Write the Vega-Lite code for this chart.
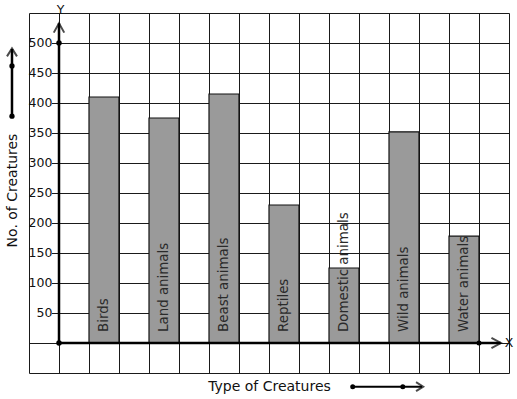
{
  "$schema": "https://vega.github.io/schema/vega-lite/v6.json",
  "width": 480,
  "height": 360,
  "autosize": {"type": "none"},
  "padding": {"left": 29, "top": 13, "right": 8, "bottom": 26},
  "background": "white",
  "config": {"view": {"stroke": null}, "font": "DejaVu Sans", "text": {"font": "DejaVu Sans"}},
  "datasets": {
    "creatures": [
      {"type": "Birds", "count": 410},
      {"type": "Land animals", "count": 375},
      {"type": "Beast animals", "count": 415},
      {"type": "Reptiles", "count": 230},
      {"type": "Domestic animals", "count": 125},
      {"type": "Wild animals", "count": 352},
      {"type": "Water animals", "count": 178}
    ],
    "ticks": [
      {"value": 50}, {"value": 100}, {"value": 150}, {"value": 200}, {"value": 250},
      {"value": 300}, {"value": 350}, {"value": 400}, {"value": 450}, {"value": 500}
    ]
  },
  "layer": [
    {
      "data": {"name": "ticks"},
      "mark": {"type": "point", "opacity": 0},
      "encoding": {
        "x": {"datum": 0, "type": "quantitative", "scale": {"domain": [0, 16], "nice": false, "zero": false},
          "axis": {"orient": "bottom", "values": [0,1,2,3,4,5,6,7,8,9,10,11,12,13,14,15,16], "grid": true, "gridColor": "#1a1a1a", "gridWidth": 1, "gridOpacity": 1, "domain": false, "ticks": false, "labels": false,
            "title": "Type of Creatures", "titleFont": "DejaVu Sans", "titleFontSize": 14, "titleFontWeight": "normal", "titleColor": "#111", "titleX": 240, "titleY": 13, "titleAlign": "center", "titleBaseline": "middle"}},
        "y": {"field": "value", "type": "quantitative", "scale": {"domain": [-50, 550], "nice": false, "zero": false},
          "axis": {"orient": "left", "values": [-50,0,50,100,150,200,250,300,350,400,450,500,550], "grid": true, "gridColor": "#1a1a1a", "gridWidth": 1, "gridOpacity": 1, "domain": false, "ticks": false, "labels": false,
            "title": "No. of Creatures", "titleFont": "DejaVu Sans", "titleFontSize": 14, "titleFontWeight": "normal", "titleColor": "#111", "titleX": -17, "titleY": 177, "titleAngle": 270, "titleAlign": "center", "titleBaseline": "middle"}}
      }
    },
    {
      "data": {"name": "ticks"},
      "mark": {"type": "tick", "orient": "horizontal", "color": "white", "opacity": 1, "thickness": 14, "size": 22},
      "encoding": {
        "x": {"datum": 0.4, "type": "quantitative", "scale": {"domain": [0, 16], "nice": false, "zero": false}, "axis": null},
        "y": {"field": "value", "type": "quantitative", "scale": {"domain": [-50, 550], "nice": false, "zero": false}, "axis": null}
      }
    },
    {
      "data": {"name": "ticks"},
      "mark": {"type": "text", "align": "right", "baseline": "middle", "fontSize": 12.5, "color": "#111", "font": "DejaVu Sans"},
      "encoding": {
        "x": {"datum": 0.78, "type": "quantitative", "scale": {"domain": [0, 16], "nice": false, "zero": false}, "axis": null},
        "y": {"field": "value", "type": "quantitative", "scale": {"domain": [-50, 550], "nice": false, "zero": false}, "axis": null},
        "text": {"field": "value", "type": "quantitative"}
      }
    },
    {
      "data": {"name": "creatures"},
      "mark": {"type": "bar", "fill": "#9a9a9a", "stroke": "#111", "strokeWidth": 1.2},
      "encoding": {
        "x": {"field": "type", "type": "nominal", "sort": null, "scale": {"type": "band", "paddingInner": 0.5, "paddingOuter": 0.75, "align": 0.6667}, "axis": null},
        "y": {"field": "count", "type": "quantitative", "scale": {"domain": [-50, 550], "nice": false, "zero": false}, "axis": null}
      }
    },
    {
      "data": {"name": "creatures"},
      "mark": {"type": "text", "angle": 270, "align": "left", "baseline": "middle", "dx": 11, "fontSize": 13.4, "color": "#2a2a2a", "font": "DejaVu Sans"},
      "encoding": {
        "x": {"field": "type", "type": "nominal", "sort": null, "bandPosition": 0.5, "scale": {"type": "band", "paddingInner": 0.5, "paddingOuter": 0.75, "align": 0.6667}, "axis": null},
        "y": {"datum": 0, "type": "quantitative", "scale": {"domain": [-50, 550], "nice": false, "zero": false}, "axis": null},
        "text": {"field": "type", "type": "nominal"}
      }
    },
    {
      "data": {"values": [{}]},
      "layer": [
        {"mark": {"type": "rule", "color": "#000", "strokeWidth": 2.5},
         "encoding": {"x": {"datum": 1}, "y": {"datum": 0}, "y2": {"datum": 533}}},
        {"mark": {"type": "rule", "color": "#000", "strokeWidth": 2.5},
         "encoding": {"x": {"datum": 1}, "x2": {"datum": 15.72}, "y": {"datum": 0}}},
        {"mark": {"type": "point", "shape": "M -1 1.8 L 0 0 L 1 1.8", "filled": false, "stroke": "#000", "strokeWidth": 2, "size": 110},
         "encoding": {"x": {"datum": 1}, "y": {"datum": 533}}},
        {"mark": {"type": "point", "shape": "M -1.8 -1 L 0 0 L -1.8 1", "filled": false, "stroke": "#000", "strokeWidth": 2, "size": 110},
         "encoding": {"x": {"datum": 15.73}, "y": {"datum": 0}}},
        {"mark": {"type": "point", "shape": "circle", "filled": true, "color": "#000", "opacity": 1, "size": 30},
         "encoding": {"x": {"datum": 1}, "y": {"datum": 0}}},
        {"mark": {"type": "point", "shape": "circle", "filled": true, "color": "#000", "opacity": 1, "size": 30},
         "encoding": {"x": {"datum": 1}, "y": {"datum": 500}}},
        {"mark": {"type": "point", "shape": "circle", "filled": true, "color": "#000", "opacity": 1, "size": 25},
         "encoding": {"x": {"datum": 15}, "y": {"datum": 0}}},
        {"mark": {"type": "text", "text": "X", "fontSize": 12.5, "align": "center", "baseline": "middle", "color": "#111"},
         "encoding": {"x": {"datum": 16.0}, "y": {"datum": 0}}},
        {"mark": {"type": "text", "text": "Y", "fontSize": 12.5, "align": "center", "baseline": "middle", "color": "#111"},
         "encoding": {"x": {"datum": 1.05}, "y": {"datum": 555}}},
        {"mark": {"type": "rule", "color": "#000", "strokeWidth": 2.5},
         "encoding": {"x": {"datum": -0.567}, "y": {"datum": 378}, "y2": {"datum": 490}}},
        {"mark": {"type": "point", "shape": "M -1 1.6 L 0 0 L 1 1.6", "filled": false, "stroke": "#000", "strokeWidth": 2, "size": 100},
         "encoding": {"x": {"datum": -0.567}, "y": {"datum": 491}}},
        {"mark": {"type": "point", "shape": "circle", "filled": true, "color": "#000", "opacity": 1, "size": 28},
         "encoding": {"x": {"datum": -0.567}, "y": {"datum": 378}}},
        {"mark": {"type": "point", "shape": "circle", "filled": true, "color": "#000", "opacity": 1, "size": 28},
         "encoding": {"x": {"datum": -0.567}, "y": {"datum": 461.7}}},
        {"mark": {"type": "rule", "color": "#000", "strokeWidth": 2},
         "encoding": {"x": {"datum": 10.79}, "x2": {"datum": 13.1}, "y": {"datum": -72.8}}},
        {"mark": {"type": "point", "shape": "M -1.6 -1 L 0 0 L -1.6 1", "filled": false, "stroke": "#000", "strokeWidth": 2, "size": 80},
         "encoding": {"x": {"datum": 13.14}, "y": {"datum": -72.8}}},
        {"mark": {"type": "point", "shape": "circle", "filled": true, "color": "#000", "opacity": 1, "size": 25},
         "encoding": {"x": {"datum": 10.79}, "y": {"datum": -72.8}}},
        {"mark": {"type": "point", "shape": "circle", "filled": true, "color": "#000", "opacity": 1, "size": 25},
         "encoding": {"x": {"datum": 12.46}, "y": {"datum": -72.8}}}
      ],
      "encoding": {
        "x": {"type": "quantitative", "scale": {"domain": [0, 16], "nice": false, "zero": false}, "axis": null},
        "y": {"type": "quantitative", "scale": {"domain": [-50, 550], "nice": false, "zero": false}, "axis": null}
      }
    }
  ],
  "resolve": {"scale": {"x": "independent", "y": "independent"}}
}
